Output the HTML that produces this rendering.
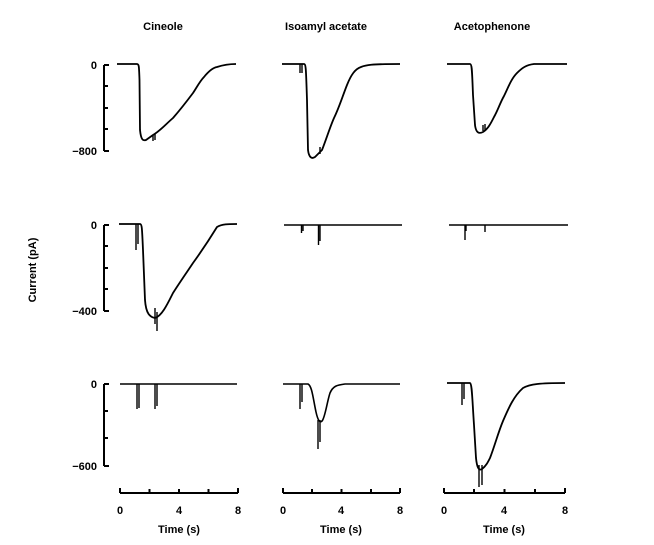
<!DOCTYPE html>
<html><head><meta charset="utf-8"><style>
html,body{margin:0;padding:0;background:#fff;}
svg{display:block;}
text{font-family:"Liberation Sans",Arial,sans-serif;font-size:11px;fill:#000;font-weight:bold;}
</style></head><body>
<svg width="654" height="545" viewBox="0 0 654 545" xmlns="http://www.w3.org/2000/svg">
<g text-anchor="middle">
<text x="163" y="30">Cineole</text>
<text x="326" y="30">Isoamyl acetate</text>
<text x="492" y="30">Acetophenone</text>
<text x="179" y="533">Time (s)</text>
<text x="341" y="533">Time (s)</text>
<text x="504" y="533">Time (s)</text>
<text transform="translate(36,270) rotate(-90)">Current (pA)</text>
</g>
<g stroke="#000" stroke-width="2" fill="none">
<!-- y axes -->
<path d="M104 65V151M104 65h5M104 86h4M104 108h4M104 129h4M104 151h5"/>
<path d="M104 225V311M104 225h5M104 246h4M104 268h4M104 289h4M104 311h5"/>
<path d="M104 384V466M104 384h5M104 411h4M104 438h4M104 466h5"/>
<!-- x axes -->
<path d="M120 493H238M120 488v5M149.5 489v4M179 489v4M208.5 489v4M238 488v5"/>
<path d="M283 493H400M283 488v5M312 489v4M341.5 489v4M371 489v4M400 488v5"/>
<path d="M444 493H565M444 488v5M474 489v4M504.5 489v4M535 489v4M565 488v5"/>
</g>
<g text-anchor="end">
<text x="97" y="69">0</text><text x="97" y="155">−800</text>
<text x="97" y="229">0</text><text x="97" y="315">−400</text>
<text x="97" y="388">0</text><text x="97" y="470">−600</text>
</g>
<g text-anchor="middle">
<text x="120" y="514">0</text><text x="179" y="514">4</text><text x="238" y="514">8</text>
<text x="283" y="514">0</text><text x="341" y="514">4</text><text x="400" y="514">8</text>
<text x="444" y="514">0</text><text x="504" y="514">4</text><text x="565" y="514">8</text>
</g>
<g stroke="#000" stroke-width="1.4" fill="none" stroke-linejoin="round">
<!-- row 1 -->
<path d="M117 64H137C139 64 139 66 139.5 80L140 130C141 140 143 141 146 140L153 135C160 131 166 124 173 118C180 110 187 101 193 93C197 87 200 81 204 77C208 72 212 68 217 67C223 65 230 64 236 64" stroke-width="1.8"/>
<path d="M153 135v6M155 134v6"/>
<path d="M282 64H304C306 64 306 70 307 100L308 150C309 158 312 159 315 157L322 150C326 140 330 127 334 118C339 108 343 95 347 85C351 75 355 69 361 67C366 65 370 64 400 64" stroke-width="1.8"/>
<path d="M300 64v9M302 64v9M320 147v7"/>
<path d="M447 64H470C472 64 472 70 473 95L475 125C476 133 479 134 483 132C488 129 491 123 494 117C498 110 500 103 504 96C508 88 511 79 517 73C522 68 526 65 534 64H567" stroke-width="1.8"/>
<path d="M483 125v6M485 124v6"/>
<!-- row 2 -->
<path d="M119 224H140C142 224 142 228 143 250L145 300C146 314 150 317 155 318C162 316 168 303 173 293C180 282 187 272 193 263C201 252 209 240 217 227C222 224 228 224 237 224" stroke-width="1.8"/>
<path d="M136 224v26M138 224v20M155 308v16M157 312v19"/>
<path d="M284 225H402M301.5 225v8M303 225v6M318.5 225v20M320 225v16"/>
<path d="M449 225H568M465 225v15M466 225v6M485 225v7"/>
<!-- row 3 -->
<path d="M120 384H237M137 384v25M139 384v24M155 384v25M157 384v22"/>
<path d="M283 384H308C312 386 313 398 316 412C318 421 320 423 322 421C325 418 327 402 330 393C333 386 337 385 345 384H400" stroke-width="1.6"/>
<path d="M300 384v25M302 384v18M318 420v29M320 420v22"/>
<path d="M447 383H470C472 384 472 395 474 425L476 458C477 468 479 471 482 469C486 466 488 462 490 458C495 445 498 433 503 421C509 407 514 396 523 388C530 384 540 383 565 383" stroke-width="1.8"/>
<path d="M462 383v22M464 383v16M479 465v22M482 465v20"/>
</g>
</svg>
</body></html>
